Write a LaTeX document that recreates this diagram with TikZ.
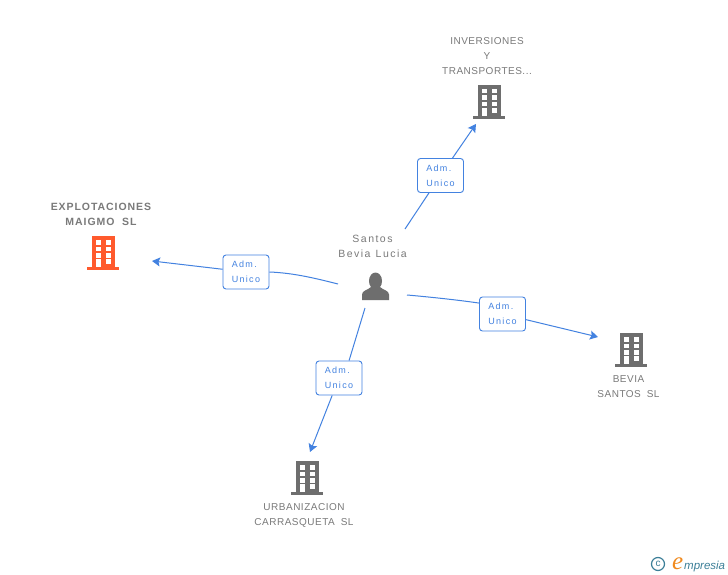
\documentclass[tikz,border=0pt]{standalone}
\usepackage{fontspec}
\setmainfont{Liberation Sans}
\newfontfamily\capsfont[LetterSpace=5,WordSpace=1.8]{Liberation Sans}
\newfontfamily\lowerfont[LetterSpace=14,WordSpace=1.2]{Liberation Sans}
\newfontfamily\boldcapsfont[LetterSpace=9,WordSpace=2]{Liberation Sans}
\newfontfamily\logofont{Liberation Serif}
\definecolor{txtgrey}{HTML}{7A7A7A}
\definecolor{icongrey}{HTML}{6E6E6E}
\definecolor{iconred}{HTML}{FF5A2D}
\definecolor{linkblue}{HTML}{4382E0}
\definecolor{logoteal}{HTML}{3C7F98}
\definecolor{logoorange}{HTML}{F08A1E}
\usetikzlibrary{arrows.meta}
\tikzset{
  x=1pt,y=-1pt,
  caption/.style={font=\capsfont\fontsize{10}{15}\selectfont,text=txtgrey,align=center,inner sep=0pt},
  personcaption/.style={font=\lowerfont\fontsize{10.5}{15}\selectfont,text=txtgrey,align=center,inner sep=0pt},
  boldcaption/.style={font=\boldcapsfont\bfseries\fontsize{10.5}{15}\selectfont,text=txtgrey,align=center,inner sep=0pt},
  rolebox/.style={draw=linkblue,line width=0.9pt,rounded corners=3pt,fill=white,minimum width=46pt,minimum height=34pt,inner sep=0pt,
    font=\lowerfont\fontsize{9}{15}\selectfont,text=linkblue,align=left},
  link/.style={draw=linkblue,line width=1pt},
  arrowlink/.style={link,-{Stealth[length=8pt,width=9pt,inset=1.5pt]}},
  pics/building/.style={code={
    \fill[#1] (-11,-17) rectangle (11.5,14);
    \fill[#1] (-16,14) rectangle (16,17);
    \foreach \wy in {-13,-6.5,0}{
      \fill[white] (-7,\wy) rectangle (-2,\wy+4.5);
      \fill[white] (3,\wy) rectangle (8,\wy+4.5);
    }
    \fill[white] (-7,6) rectangle (-2,14);
    \fill[white] (3,6) rectangle (8,11);
  }}
}
\begin{document}
\begin{tikzpicture}
\useasboundingbox (0,0) rectangle (728,575);
\fill[white] (0,0) rectangle (728,575);

% captions
\node[caption] (inv) at (487,56) {INVERSIONES\\Y\\TRANSPORTES...};
\node[boldcaption] (exp) at (101,214) {EXPLOTACIONES\\MAIGMO SL};
\node[personcaption] (per) at (372.5,246) {Santos\\Bevia Lucia};
\node[caption] (bev) at (628.5,386.5) {BEVIA\\SANTOS SL};
\node[caption] (urb) at (304,515) {URBANIZACION\\CARRASQUETA SL};

% icons
\pic at (489,102) {building=icongrey};
\pic at (103,253) {building=iconred};
\pic at (631,350) {building=icongrey};
\pic at (307,478) {building=icongrey};
\fill[icongrey] (375.5,281) ellipse [x radius=6.5,y radius=8.5];
\fill[icongrey] (362,300) -- (362,294.5) .. controls (362,290.5) and (368,290) .. (371,287)
  -- (380,287) .. controls (383,290) and (389,290.5) .. (389,294.5) -- (389,300) -- cycle;

% connector ends
\coordinate (sTop) at (405,229);
\coordinate (tTop) at (476,124);
\coordinate (sLeft) at (338,284);
\coordinate (tLeft) at (152,261);
\coordinate (sRight) at (407,295);
\coordinate (tRight) at (598,337);
\coordinate (sDown) at (365,308);
\coordinate (tDown) at (310,452);

% role boxes
\node[rolebox] (rTop) at (440.5,175.5) {Adm.\\Unico};
\node[rolebox] (rLeft) at (246,272) {Adm.\\Unico};
\node[rolebox] (rRight) at (502.5,314) {Adm.\\Unico};
\node[rolebox] (rDown) at (339,378) {Adm.\\Unico};

\draw[link] (sTop) -- (rTop);
\draw[arrowlink] (rTop) -- (tTop);
\draw[link] (sLeft) .. controls (318,279) and (295,273) .. (rLeft.east);
\draw[arrowlink] (rLeft) -- (tLeft);
\draw[link] (sRight) .. controls (430,297) and (458,300) .. (rRight.155);
\draw[arrowlink] (rRight) -- (tRight);
\draw[link] (sDown) -- (rDown.60);
\draw[arrowlink] (rDown) -- (tDown);

% logo
\node[draw=logoteal,line width=1.2pt,circle,inner sep=0pt,minimum size=13pt,text=logoteal,font=\fontsize{10}{10}\selectfont] (copy) at (658,564) {c};
\node[inner sep=0pt,anchor=base west,font=\logofont\itshape\fontsize{25}{25}\selectfont,text=logoorange] (loge) at (672,569) {e};
\node[inner sep=0pt,anchor=base west,font=\itshape\fontsize{11.5}{11.5}\selectfont,text=logoteal] (logt) at (684,569) {mpresia};
\end{tikzpicture}
\end{document}
